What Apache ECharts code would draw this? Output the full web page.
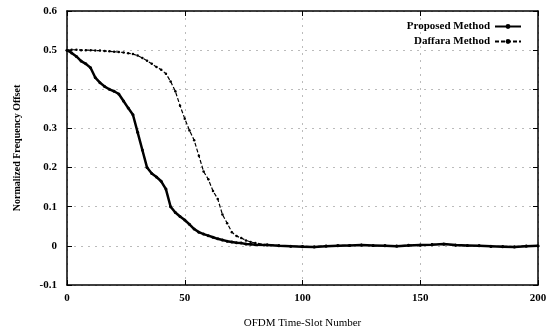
<!DOCTYPE html>
<html><head><meta charset="utf-8">
<script src="https://cdn.jsdelivr.net/npm/echarts@6/dist/echarts.min.js"></script>
<style>html,body{margin:0;padding:0;background:#fff}#c{width:555px;height:334px}</style>
</head><body><div id="c"></div>
<script>
const slots = [0,2,4,6,8,10,12,14,16,18,20,22,24,26,28,30,32,34,36,38,40,42,44,46,48,50,52,54,56,58,60,62,64,66,68,70,72,74,76,78,80,85,90,95,100,105,110,115,120,125,130,135,140,145,150,155,160,165,170,175,180,185,190,195,200];
const proposed = [0.5,0.493,0.484,0.472,0.465,0.455,0.43,0.417,0.407,0.4,0.395,0.388,0.37,0.352,0.335,0.29,0.245,0.2,0.185,0.176,0.165,0.145,0.1,0.085,0.075,0.066,0.055,0.043,0.035,0.03,0.026,0.022,0.018,0.015,0.012,0.01,0.008,0.007,0.005,0.004,0.003,0.002,0,-0.001,-0.002,-0.003,-0.001,0,0.001,0.002,0.001,0,-0.001,0.001,0.002,0.003,0.005,0.002,0.001,0,-0.001,-0.002,-0.003,-0.001,0];
const daffara = [0.5,0.501,0.501,0.5,0.5,0.5,0.499,0.499,0.498,0.497,0.496,0.495,0.494,0.492,0.49,0.486,0.48,0.473,0.465,0.457,0.45,0.44,0.42,0.395,0.358,0.325,0.295,0.27,0.23,0.19,0.17,0.14,0.12,0.08,0.058,0.035,0.025,0.02,0.014,0.01,0.007,0.003,0.001,-0.001,-0.001,-0.002,0,0.001,0.001,0.002,0,0.001,0,0.002,0.001,0.004,0.004,0.001,0,0.001,-0.002,-0.001,-0.002,0,-0.001];
const xTicks = [0,50,100,150,200];
const yTicks = [-0.1,0,0.1,0.2,0.3,0.4,0.5,0.6];
const seriesNames = ['Proposed Method','Daffara Method'];

const font = 'Liberation Serif';
const pair = (ys) => slots.map((x,i)=>[x,ys[i]]);
const chart = echarts.init(document.getElementById('c'), null, {renderer:'canvas'});
const axisLine = {show:true, onZero:false, lineStyle:{color:'#000', width:1.5}};
const tick = {show:true, inside:true, length:5, lineStyle:{color:'#000'}};
const split = {show:true, lineStyle:{color:'#bbb', type:[2,5], width:1}};
chart.setOption({
  animation:false,
  backgroundColor:'#fff',
  grid:{left:67, right:17, top:11, bottom:47, containLabel:false},
  legend:{
    right:28, top:16, orient:'vertical', align:'right', itemGap:4,
    itemWidth:26, itemHeight:6,
    textStyle:{fontFamily:font, fontWeight:'bold', fontSize:11, color:'#000'},
    data:seriesNames
  },
  xAxis:[{
    type:'value', min:0, max:200, interval:50,
    axisLine, axisTick:tick, splitLine:split,
    axisLabel:{fontFamily:font, fontWeight:'bold', fontSize:11, color:'#000', margin:8},
    name:'OFDM Time-Slot Number', nameLocation:'middle', nameGap:33,
    nameTextStyle:{fontFamily:font, fontSize:11, color:'#000'}
  },{
    type:'value', position:'top', min:0, max:200, interval:50,
    axisLine, axisTick:tick, splitLine:{show:false}, axisLabel:{show:false}
  }],
  yAxis:[{
    type:'value', min:-0.1, max:0.6, interval:0.1,
    axisLine, axisTick:tick, splitLine:split,
    axisLabel:{fontFamily:font, fontWeight:'bold', fontSize:11, color:'#000', margin:10,
      formatter:(v)=>{const r=Math.round(v*10)/10; return r===0?'0':String(r);}},
    name:'Normalized Frequency Offset', nameLocation:'middle', nameGap:45,
    nameTextStyle:{fontFamily:font, fontWeight:'bold', fontSize:10, color:'#000'}
  },{
    type:'value', position:'right', min:-0.1, max:0.6, interval:0.1,
    axisLine, axisTick:tick, splitLine:{show:false}, axisLabel:{show:false}
  }],
  series:[{
    name:seriesNames[0], type:'line', data:pair(proposed),
    symbol:'circle', symbolSize:3, showSymbol:true,
    lineStyle:{color:'#000', width:2.5}, itemStyle:{color:'#000'}
  },{
    name:seriesNames[1], type:'line', data:pair(daffara),
    symbol:'circle', symbolSize:2.5, showSymbol:true,
    lineStyle:{color:'#000', width:1.2, type:[4,2]}, itemStyle:{color:'#000'}
  }]
});
</script></body></html>
